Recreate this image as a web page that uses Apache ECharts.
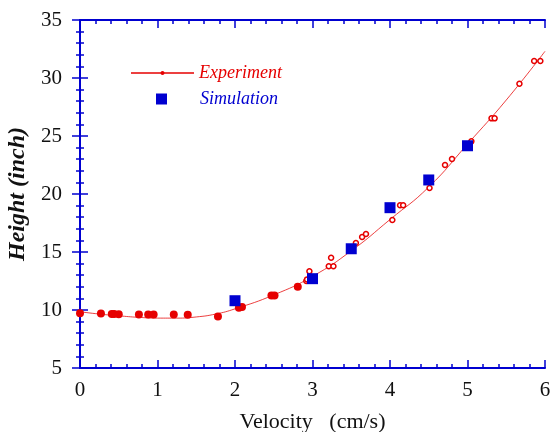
<!DOCTYPE html>
<html lang="en">
<head>
    <meta charset="UTF-8">
    <title>Height vs Velocity</title>
    <style>
        html,body{
            width: 100%;
            height: 100%;
            margin: 0;
            padding: 0;
            background: #fff;
        }
        #chart{
            width: 551px;
            height: 432px;
        }
    </style>
</head>
<body>
    <div id="chart"></div>
    <script src="https://cdn.jsdelivr.net/npm/echarts@6/dist/echarts.min.js"></script>
    <script>
        // experiment, filled dots (low velocity)
        var expFilledV = [0, 0.27, 0.41, 0.44, 0.5, 0.76, 0.88, 0.95, 1.21, 1.39, 1.78, 2.05, 2.09, 2.47, 2.51, 2.81];
        var expFilledH = [9.72, 9.7, 9.66, 9.66, 9.64, 9.62, 9.62, 9.62, 9.62, 9.58, 9.43, 10.2, 10.25, 11.25, 11.25, 12.0];
        // experiment, open circles
        var expOpenV = [2.92, 2.93, 2.96, 3.21, 3.24, 3.27, 3.56, 3.64, 3.69, 4.03, 4.13, 4.17, 4.51, 4.71, 4.8, 5.05, 5.31, 5.35, 5.67, 5.86, 5.94];
        var expOpenH = [12.5, 12.64, 13.33, 13.77, 14.5, 13.77, 15.78, 16.29, 16.55, 17.76, 19.03, 19.03, 20.52, 22.5, 23.02, 24.54, 26.52, 26.52, 29.51, 31.47, 31.47];
        // fitted curve
        var fitV = [0, 0.25, 0.5, 0.75, 1, 1.25, 1.5, 1.75, 2, 2.5, 3, 3.5, 4, 4.5, 5, 5.5, 6];
        var fitH = [9.85, 9.65, 9.5, 9.37, 9.3, 9.3, 9.4, 9.65, 10.1, 11.3, 12.9, 15.1, 17.8, 20.6, 24.3, 28.1, 32.3];
        // simulation
        var simV = [2, 3, 3.5, 4, 4.5, 5];
        var simH = [10.8, 12.7, 15.28, 18.82, 21.21, 24.16];

        var red = '#e60000';
        var blue = '#0000d0';
        var serif = '"Liberation Serif", "DejaVu Serif", serif';

        function pairs(xs, ys){
            var res = [];
            for (var i = 0; i < xs.length; i++) {
                res.push([xs[i], ys[i]]);
            }
            return res;
        }

        var axisCommon = {
            axisLine: { lineStyle: { color: blue, width: 2 } },
            axisTick: { inside: true, length: 8, lineStyle: { color: blue, width: 1.5 } },
            minorTick: { show: true, splitNumber: 5, length: 4, lineStyle: { color: blue, width: 1.5 } },
            splitLine: { show: false }
        };

        var chart = echarts.init(document.getElementById('chart'));
        var option = {
            backgroundColor: '#fff',
            animation: false,
            grid: { left: 80, right: 6, top: 20, bottom: 64, containLabel: false, outerBoundsMode: 'none' },
            legend: [{
                left: 130, top: 64, orient: 'vertical', padding: 0,
                itemWidth: 63, itemHeight: 5,
                data: [{ name: 'Experiment', textStyle: { color: red } }],
                textStyle: { fontFamily: serif, fontStyle: 'italic', fontSize: 18 },
                selectedMode: false
            }, {
                // square centred under the Experiment line, text lined up with it
                left: 156, top: 90, orient: 'vertical', padding: 0,
                itemWidth: 11, itemHeight: 11,
                data: [{ name: 'Simulation', icon: 'rect', textStyle: { color: blue } }],
                textStyle: { fontFamily: serif, fontStyle: 'italic', fontSize: 18, padding: [0, 0, 0, 28] },
                selectedMode: false
            }],
            xAxis: [Object.assign({
                type: 'value', min: 0, max: 6, interval: 1,
                name: 'Velocity   (cm/s)', nameLocation: 'middle', nameGap: 43,
                nameTextStyle: { fontFamily: serif, fontSize: 22, color: '#111' },
                axisLabel: { fontFamily: serif, fontSize: 21, color: '#111', margin: 12 }
            }, axisCommon), Object.assign({
                type: 'value', min: 0, max: 6, interval: 1, position: 'top',
                axisLabel: { show: false }
            }, axisCommon)],
            yAxis: [Object.assign({
                type: 'value', min: 5, max: 35, interval: 5,
                name: 'Height (inch)', nameLocation: 'middle', nameGap: 47,
                nameTextStyle: { fontFamily: serif, fontSize: 24, fontWeight: 'bold', fontStyle: 'italic', color: '#111' },
                axisLabel: { fontFamily: serif, fontSize: 21, color: '#111', margin: 18 }
            }, axisCommon), Object.assign({
                type: 'value', min: 5, max: 35, interval: 5, position: 'right',
                axisLabel: { show: false }
            }, axisCommon)],
            series: [{
                name: 'Experiment',
                type: 'line',
                smooth: true,
                symbol: 'circle',
                showSymbol: false,
                itemStyle: { color: red },
                lineStyle: { color: red, width: 1, opacity: 0.75 },
                data: pairs(fitV, fitH),
                z: 1
            }, {
                name: 'expFilled',
                type: 'scatter',
                symbol: 'circle',
                symbolSize: 8,
                itemStyle: { color: red, opacity: 1 },
                data: pairs(expFilledV, expFilledH),
                z: 3
            }, {
                name: 'expOpen',
                type: 'scatter',
                symbol: 'circle',
                symbolSize: 5,
                itemStyle: { color: '#fff', borderColor: red, borderWidth: 1.5, opacity: 1 },
                data: pairs(expOpenV, expOpenH),
                z: 3
            }, {
                name: 'Simulation',
                type: 'scatter',
                symbol: 'rect',
                symbolSize: 11,
                itemStyle: { color: blue, opacity: 1 },
                data: pairs(simV, simH),
                z: 4
            }]
        };
        chart.setOption(option);
    </script>
</body>
</html>
